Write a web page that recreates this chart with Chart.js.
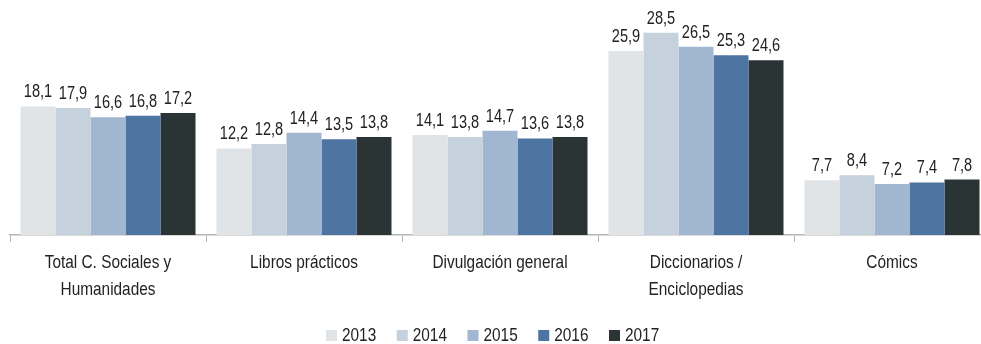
<!DOCTYPE html>
<html lang="es">
<head>
<meta charset="utf-8">
<title>Lectura por materias 2013-2017</title>
<script src="https://cdn.jsdelivr.net/npm/chart.js@4/dist/chart.umd.min.js"></script>
<style>
  html, body { margin: 0; padding: 0; background: #fff; overflow: hidden; }
  #wrap { width: 1000px; height: 344px; }
</style>
</head>
<body>
<div id="wrap"><canvas id="chart" width="1000" height="344"></canvas></div>
<script>
// Categories and yearly values
const categories = [
    ['Total C. Sociales y', 'Humanidades'],
    ['Libros prácticos'],
    ['Divulgación general'],
    ['Diccionarios /', 'Enciclopedias'],
    ['Cómics']
];
const years = ['2013', '2014', '2015', '2016', '2017'];
const values2013 = [18.1, 12.2, 14.1, 25.9, 7.7];
const values2014 = [17.9, 12.8, 13.8, 28.5, 8.4];
const values2015 = [16.6, 14.4, 14.7, 26.5, 7.2];
const values2016 = [16.8, 13.5, 13.6, 25.3, 7.4];
const values2017 = [17.2, 13.8, 13.8, 24.6, 7.8];
const colors = ['#e0e4e7', '#c5d1dd', '#a0b6d1', '#4e74a2', '#2b3434'];

const FONT = '"Liberation Sans", Arial, sans-serif';
const TEXT = '#222';
const SQUEEZE = 0.81; // condensed look for all text

// fillText with horizontal squeeze
function narrowText(ctx, txt, x, y, size, align) {
    ctx.save();
    ctx.font = size + 'px ' + FONT;
    ctx.fillStyle = TEXT;
    ctx.textAlign = align || 'center';
    ctx.textBaseline = 'alphabetic';
    ctx.translate(x, y);
    ctx.scale(SQUEEZE, 1);
    ctx.fillText(txt, 0, 0);
    ctx.restore();
}

// Value labels, category labels and legend
const textLayer = {
    id: 'textLayer',
    afterDraw(chart) {
        const ctx = chart.ctx;
        const xs = chart.scales.x;

        // values above the bars, decimal comma
        chart.data.datasets.forEach((ds, i) => {
            chart.getDatasetMeta(i).data.forEach((bar, j) => {
                const txt = ds.data[j].toFixed(1).replace('.', ',');
                narrowText(ctx, txt, bar.x, bar.y - 9, 18);
            });
        });

        // category names under the axis
        chart.data.labels.forEach((lines, i) => {
            const cx = xs.getPixelForValue(i);
            lines.forEach((line, k) => {
                narrowText(ctx, line, cx, xs.bottom + 26 + k * 27, 19);
            });
        });

        // legend row
        const pitch = 70.75;
        const box = 11;
        const startX = 493 - (pitch * (years.length - 1) + 16 + 35) / 2;
        const base = 341;
        years.forEach((y, i) => {
            const bx = startX + i * pitch;
            ctx.fillStyle = colors[i];
            ctx.fillRect(bx, base - box, box, box);
            narrowText(ctx, y, bx + 16, base, 19, 'left');
        });
    }
};

const allValues = [values2013, values2014, values2015, values2016, values2017];

new Chart(document.getElementById('chart'), {
    type: 'bar',
    data: {
        labels: categories,
        datasets: years.map((y, i) => ({
            label: y,
            data: allValues[i],
            backgroundColor: colors[i],
            borderWidth: 0,
            categoryPercentage: 0.893,
            barPercentage: 1
        }))
    },
    options: {
        responsive: false,
        animation: false,
        devicePixelRatio: 1,
        layout: { padding: { left: 10, right: 10, top: 22, bottom: 102 } },
        scales: {
            x: {
                grid: {
                    offset: true,
                    drawOnChartArea: false,
                    drawTicks: true,
                    tickLength: 7,
                    color: '#b5b5b5'
                },
                border: { color: '#b5b5b5', width: 1.5 },
                ticks: { display: false }
            },
            y: {
                display: false,
                min: 0,
                max: 30
            }
        },
        plugins: {
            legend: { display: false },
            tooltip: { enabled: false }
        }
    },
    plugins: [textLayer]
});
</script>
</body>
</html>
